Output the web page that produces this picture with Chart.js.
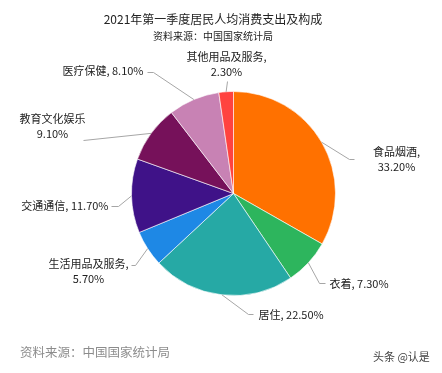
<!DOCTYPE html>
<html>
<head>
<meta charset="utf-8">
<script src="https://cdn.jsdelivr.net/npm/chart.js@4"></script>
<style>
  html,body{margin:0;padding:0;background:#fff;}
  #wrap{width:442px;height:373px;}
</style>
</head>
<body>
<div id="wrap"><canvas id="pie" width="442" height="373"></canvas></div>
<script>
// ---------- data ----------
const categories = ['食品烟酒','衣着','居住','生活用品及服务','交通通信','教育文化娱乐','医疗保健','其他用品及服务'];
const shares = [33.2, 7.3, 22.5, 5.7, 11.7, 9.1, 8.1, 2.3];
const sliceColors = ['#ff7100','#2db55d','#26a9a5','#1e88e5','#3f1288','#76115a','#c882b4','#ff4340'];

// label placement, offsets in px from the pie centre (elbow, tail end, text anchor)
const labelLayout = [
  {elbow:[116,-34], tail:[121,-34], text:[163,-34], align:'center', wrap:true},
  {elbow:[86,90],   tail:[92,90],   text:[96,90],   align:'left'},
  {elbow:[15,121],  tail:[20,121],  text:[25,121],  align:'left'},
  {elbow:[-98,72],  tail:[-102,72], text:[-145,78], align:'center', wrap:true},
  {elbow:[-115,13], tail:[-122,13], text:[-125,12], align:'right'},
  {elbow:[-150,-53],tail:[-150,-53],text:[-181,-67],align:'center', wrap:true, noComma:true},
  {elbow:[-80,-121],tail:[-86,-121],text:[-90,-123],align:'right'},
  {elbow:[-6,-112], tail:[-6,-112], text:[-7,-129], align:'center', wrap:true}
];

const FONT = '"Noto Sans CJK SC", "Noto Sans", sans-serif';

const labelsPlugin = {
  id:'sliceLabels',
  afterDatasetsDraw(chart){
    const ctx = chart.ctx;
    const arcs = chart.getDatasetMeta(0).data;
    ctx.save();
    arcs.forEach((arc, i) => {
      const {x, y, startAngle, endAngle, outerRadius} = arc.getProps(['x','y','startAngle','endAngle','outerRadius'], true);
      const mid = (startAngle + endAngle) / 2;
      const ex = x + Math.cos(mid) * outerRadius, ey = y + Math.sin(mid) * outerRadius;
      const L = labelLayout[i];
      // leader line
      ctx.strokeStyle = '#a6a6a6'; ctx.lineWidth = 1;
      ctx.beginPath();
      ctx.moveTo(ex, ey);
      ctx.lineTo(x + L.elbow[0], y + L.elbow[1]);
      ctx.lineTo(x + L.tail[0], y + L.tail[1]);
      ctx.stroke();
      // text
      const pct = shares[i].toFixed(2) + '%';
      const lines = L.wrap ? [categories[i] + (L.noComma ? '' : ','), pct] : [categories[i] + ', ' + pct];
      ctx.fillStyle = '#222';
      ctx.font = '11px ' + FONT;
      ctx.textAlign = L.align; ctx.textBaseline = 'middle';
      const lh = 15, y0 = y + L.text[1] - (lines.length - 1) * lh / 2;
      lines.forEach((t, k) => ctx.fillText(t, x + L.text[0], y0 + k * lh));
    });
    ctx.restore();
  }
};

const textPlugin = {
  id:'pageText',
  afterDraw(chart){
    const ctx = chart.ctx;
    ctx.save();
    ctx.textBaseline = 'middle';
    ctx.textAlign = 'center';
    ctx.fillStyle = '#222';
    ctx.font = '12px ' + FONT;
    ctx.fillText('2021年第一季度居民人均消费支出及构成', 213, 19);
    ctx.font = '10px ' + FONT;
    ctx.fillText('资料来源：中国国家统计局', 213, 36);
    ctx.textAlign = 'left';
    ctx.fillStyle = '#8c8c8c';
    ctx.font = '12.5px ' + FONT;
    ctx.fillText('资料来源：中国国家统计局', 20, 352);
    ctx.fillStyle = '#444';
    ctx.font = '11px ' + FONT;
    ctx.fillText('头条 @认是', 373, 357);
    ctx.restore();
  }
};

new Chart(document.getElementById('pie'), {
  type:'pie',
  data:{
    labels: categories,
    datasets:[{
      data: shares,
      backgroundColor: sliceColors,
      borderColor:'rgba(255,255,255,0.6)',
      borderWidth:1,
      hoverOffset:0
    }]
  },
  options:{
    responsive:false,
    animation:false,
    layout:{padding:{left:131, right:106, top:91, bottom:77}},
    plugins:{legend:{display:false}, tooltip:{enabled:false}, title:{display:false}}
  },
  plugins:[labelsPlugin, textPlugin]
});
</script>
</body>
</html>
